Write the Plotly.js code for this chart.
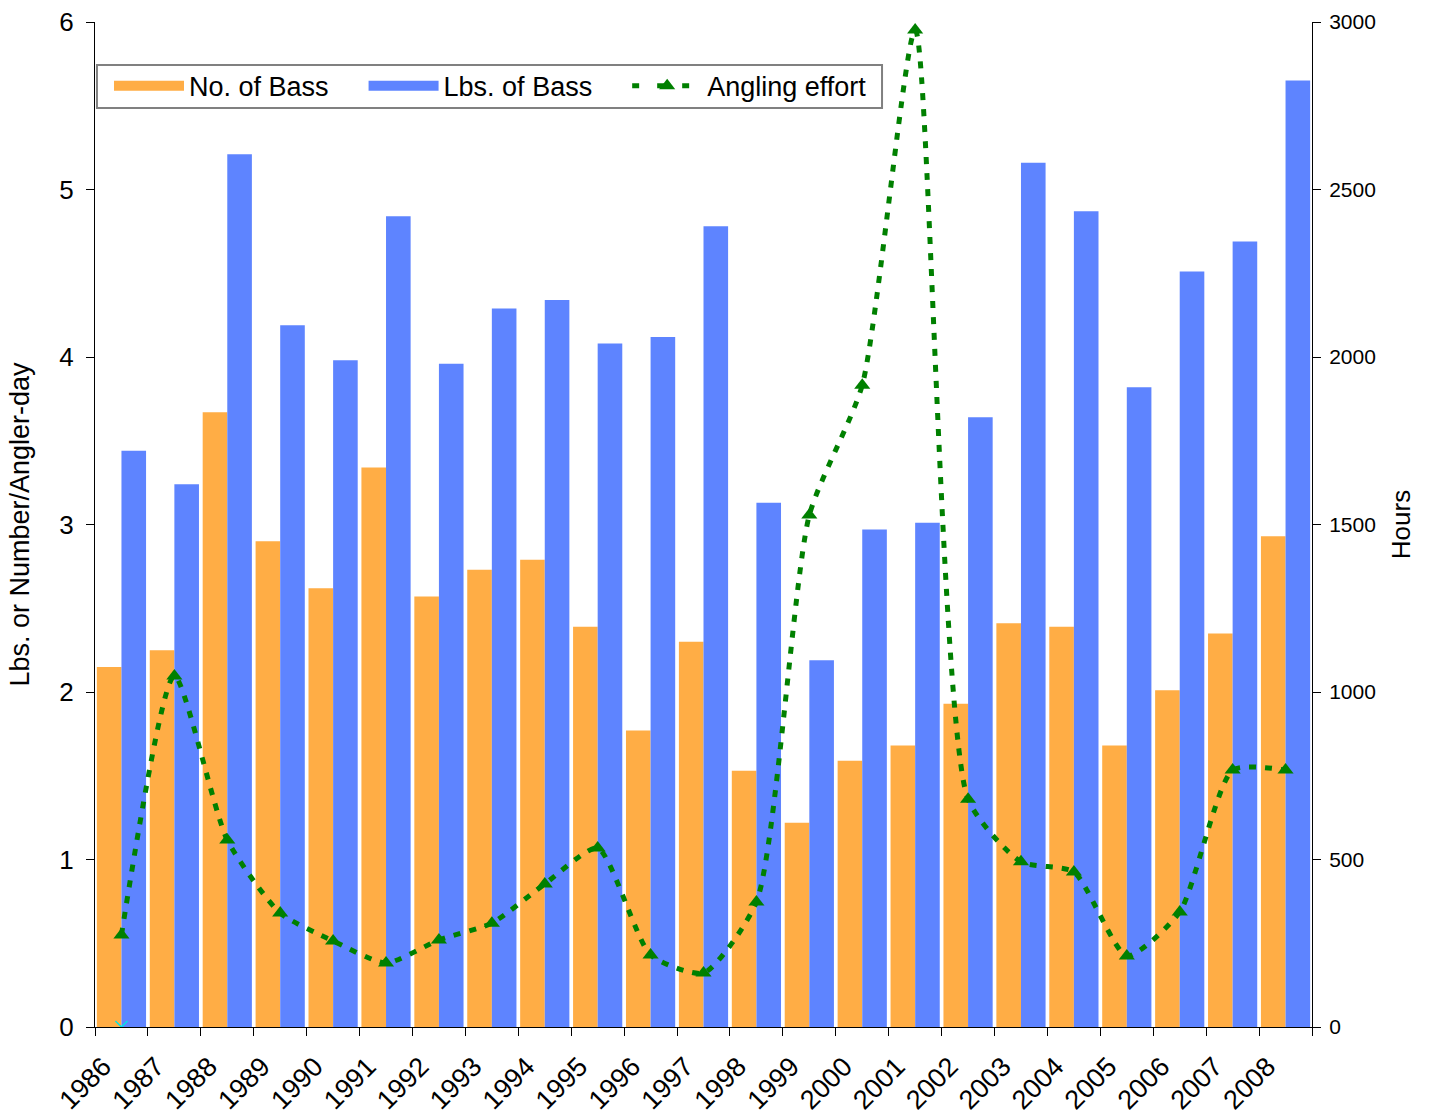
<!DOCTYPE html>
<html>
<head>
<meta charset="utf-8">
<script src="https://cdn.plot.ly/plotly-3.0.1.min.js"></script>
<style>html,body{margin:0;padding:0;background:#fff;}#chart{width:1435px;height:1118px;}</style>
</head>
<body>
<div id="chart"></div>
<script>
const years = ["1986","1987","1988","1989","1990","1991","1992","1993","1994","1995","1996","1997","1998","1999","2000","2001","2002","2003","2004","2005","2006","2007","2008"];
const noOfBass = [2.15,2.25,3.67,2.90,2.62,3.34,2.57,2.73,2.79,2.39,1.77,2.30,1.53,1.22,1.59,1.68,1.93,2.41,2.39,1.68,2.01,2.35,2.93];
const lbsOfBass = [3.44,3.24,5.21,4.19,3.98,4.84,3.96,4.29,4.34,4.08,4.12,4.78,3.13,2.19,2.97,3.01,3.64,5.16,4.87,3.82,4.51,4.69,5.65];
const anglingHours = [275,1048,558,340,257,191,260,310,427,534,215,161,373,1528,1916,2976,680,493,463,212,343,767,767];
const markerYear = ["1986"];
const markerValue = [0];

const orange = "#FFAD45";
const blue = "#5E84FF";
const green = "#008000";
const font = {family: "Liberation Sans, Arial, sans-serif", color: "#000"};
const pad = "\u00A0\u00A0\u00A0\u00A0";

const traces = [
  {type: "bar", name: "No. of Bass", x: years, y: noOfBass, showlegend: false,
   marker: {color: orange, line: {width: 0}}},
  {type: "bar", name: "Lbs. of Bass", x: years, y: lbsOfBass, showlegend: false,
   marker: {color: blue, line: {width: 0}}},
  {type: "scatter", mode: "lines+markers", name: "Angling effort", x: years, y: anglingHours, yaxis: "y2", showlegend: false,
   line: {color: green, width: 5, dash: "7px,9px", shape: "spline", smoothing: 0.6},
   marker: {symbol: "triangle-up", size: 14, color: green}},
  {type: "scatter", mode: "markers", x: markerYear, y: markerValue, showlegend: false, hoverinfo: "skip",
   marker: {symbol: "x-thin", size: 12, line: {color: "#00E5E5", width: 1.5}}},
  // legend entries
  {type: "scatter", mode: "lines", name: "No. of Bass" + pad, x: [null], y: [null], legendrank: 1,
   line: {color: orange, width: 17}},
  {type: "scatter", mode: "lines", name: "Lbs. of Bass" + pad, x: [null], y: [null], legendrank: 2,
   line: {color: blue, width: 17}},
  {type: "scatter", mode: "lines+markers", name: "Angling effort", x: [null], y: [null], legendrank: 3,
   line: {color: green, width: 5, dash: "7px,18px"},
   marker: {symbol: "triangle-up", size: 14, color: green}}
];

const layout = {
  width: 1435, height: 1118,
  margin: {l: 95, r: 123, t: 22, b: 91},
  paper_bgcolor: "#fff", plot_bgcolor: "#fff",
  font: Object.assign({size: 26}, font),
  barmode: "group", bargap: 0.07, bargroupgap: 0,
  showlegend: true,
  legend: {orientation: "h", x: 0.0115, y: 0.936, xanchor: "left", yanchor: "middle",
    bgcolor: "rgba(0,0,0,0)", borderwidth: 0,
    font: Object.assign({size: 27}, font), itemwidth: 70, traceorder: "normal"},
  shapes: [
    {type: "rect", xref: "paper", yref: "paper", x0: 0.0016, x1: 0.6467, y0: 0.9144, y1: 0.9572,
     line: {color: "#808080", width: 2}, fillcolor: "#fff", layer: "above"}
  ],
  xaxis: {type: "category", showgrid: false, zeroline: false, showline: true, linecolor: "#000", linewidth: 1,
    ticks: "outside", tickson: "boundaries", ticklen: 8, tickcolor: "#000",
    tickangle: -45, tickfont: Object.assign({size: 27}, font), ticklabelshift: -18, ticklabelstandoff: 12,
    range: [-0.5, 22.5]},
  yaxis: {range: [0, 6], dtick: 1, showgrid: false, zeroline: false, showline: true, linecolor: "#000", linewidth: 1,
    ticks: "outside", ticklen: 8, tickcolor: "#000", tickfont: Object.assign({size: 26}, font), ticklabelstandoff: 7,
    title: {text: "Lbs. or Number/Angler-day", font: Object.assign({size: 27}, font), standoff: 21}},
  yaxis2: {overlaying: "y", side: "right", range: [0, 3000], dtick: 500, showgrid: false, zeroline: false,
    showline: true, linecolor: "#000", linewidth: 1, ticks: "outside", ticklen: 8, tickcolor: "#000",
    tickfont: Object.assign({size: 21}, font), ticklabelstandoff: 4,
    title: {text: "Hours", font: Object.assign({size: 26}, font), standoff: 16}}
};

Plotly.newPlot("chart", traces, layout, {displayModeBar: false, staticPlot: true});
</script>
</body>
</html>
